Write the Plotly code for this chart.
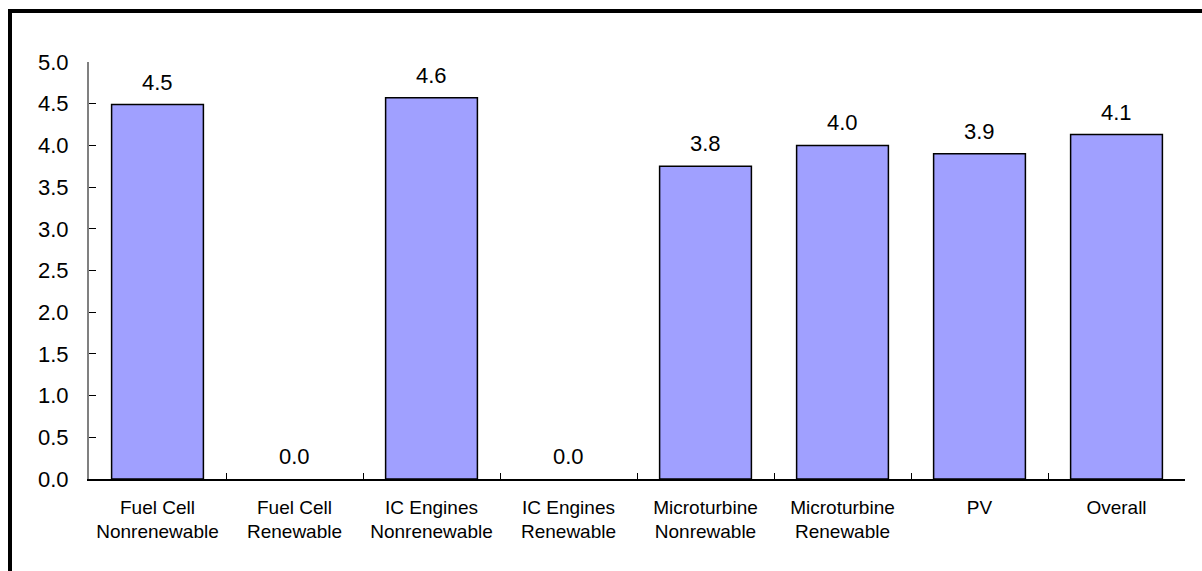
import plotly.graph_objects as go

# Average rating by technology group
categories = [
    "Fuel Cell<br>Nonrenewable",
    "Fuel Cell<br>Renewable",
    "IC Engines<br>Nonrenewable",
    "IC Engines<br>Renewable",
    "Microturbine<br>Nonrewable",
    "Microturbine<br>Renewable",
    "PV",
    "Overall",
]
ratings = [4.49, 0.0, 4.57, 0.0, 3.75, 4.00, 3.90, 4.13]
y_ticks = [0.0, 0.5, 1.0, 1.5, 2.0, 2.5, 3.0, 3.5, 4.0, 4.5, 5.0]

W, H = 1202, 571
L, R, T, B = 89, 17, 62, 92
plot_w = W - L - R
plot_h = H - T - B

font = "Liberation Sans, Arial, sans-serif"

fig = go.Figure(
    go.Bar(
        x=categories,
        y=ratings,
        marker=dict(
            color="#A0A0FF",
            line=dict(color="#000000", width=[1.5 if v > 0 else 0 for v in ratings]),
        ),
        width=0.67,
        hoverinfo="skip",
    )
)

# value labels above each bar
for cat, val in zip(categories, ratings):
    fig.add_annotation(
        x=cat, y=val, text=f"{val:.1f}", showarrow=False,
        yanchor="bottom", yshift=8,
        font=dict(family=font, size=22, color="#000000"),
    )

# outer frame (runs off the right and bottom edges)
def px_x(px):
    return (px - L) / plot_w

def px_y(py):
    return (H - B - py) / plot_h

fig.add_shape(
    type="rect", xref="paper", yref="paper",
    x0=px_x(10), x1=px_x(1215), y0=px_y(585), y1=px_y(11),
    line=dict(color="#000000", width=4), fillcolor="rgba(0,0,0,0)",
    layer="above",
)

fig.update_layout(
    width=W, height=H,
    margin=dict(l=L, r=R, t=T, b=B),
    paper_bgcolor="#FFFFFF",
    plot_bgcolor="#FFFFFF",
    showlegend=False,
    bargap=0.33,
    font=dict(family=font, color="#000000"),
)

fig.update_xaxes(
    showline=True, linecolor="#000000", linewidth=1.5,
    ticks="inside", tickson="boundaries", ticklen=6, tickcolor="#000000",
    tickfont=dict(family=font, size=19, color="#000000"),
    ticklabelstandoff=10,
    showgrid=False, zeroline=False, fixedrange=True,
)

fig.update_yaxes(
    range=[0, 5], tickvals=y_ticks, ticktext=[f"{v:.1f}" for v in y_ticks],
    showline=True, linecolor="#808080", linewidth=2,
    ticks="inside", ticklen=7, tickcolor="#000000", tickwidth=1,
    tickfont=dict(family=font, size=22, color="#000000"),
    ticklabelstandoff=14,
    showgrid=False, zeroline=False, fixedrange=True,
)

fig.write_html("out.html", config={"displayModeBar": False})
